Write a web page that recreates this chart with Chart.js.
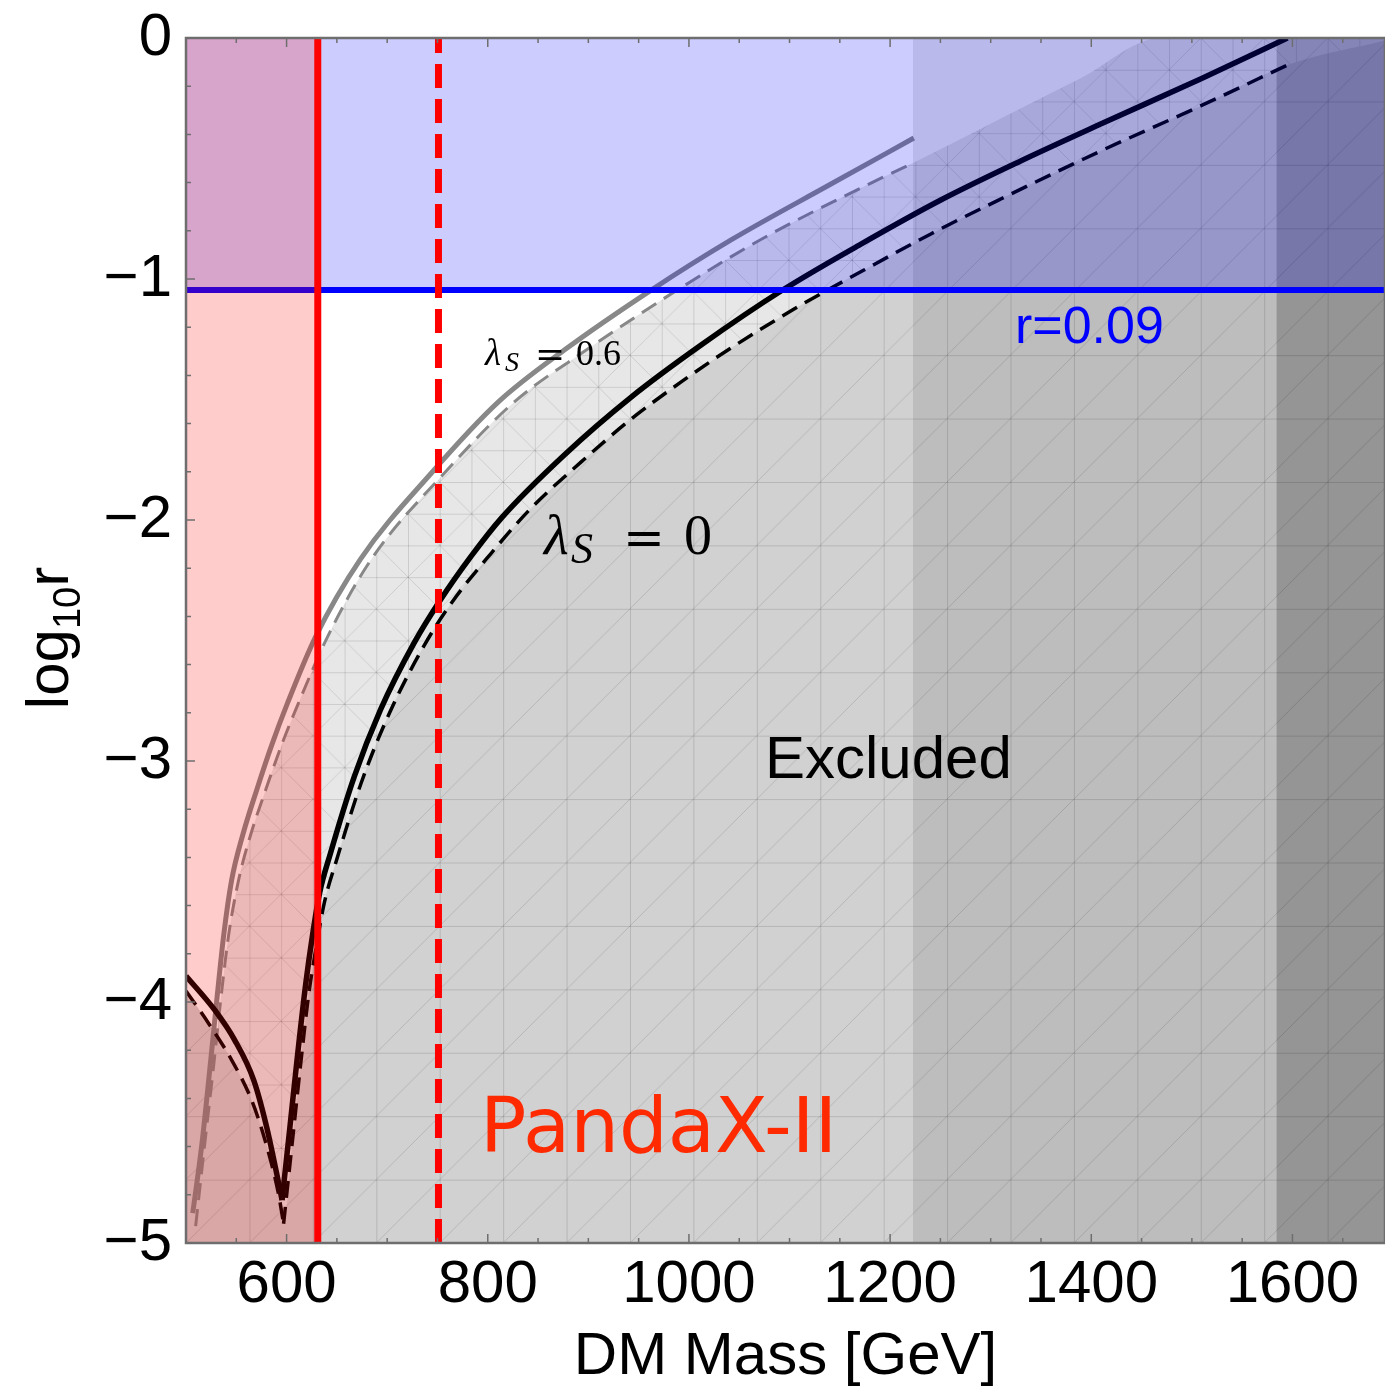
<!DOCTYPE html>
<html>
<head>
<meta charset="utf-8">
<script src="https://cdn.jsdelivr.net/npm/chart.js@4.4.1/dist/chart.umd.min.js"></script>
<style>
  html, body { margin: 0; padding: 0; background: #fff; }
  #wrap { width: 1385px; height: 1387px; position: relative; }
</style>
</head>
<body>
<div id="wrap"><canvas id="chart"></canvas></div>
<script>
// axis ticks
const xTickValues = [600, 800, 1000, 1200, 1400, 1600];
const yTickValues = [-5, -4, -3, -2, -1, 0];
const yTickLabels = ['\u22125', '\u22124', '\u22123', '\u22122', '\u22121', '0'];

const massMin = 500, massMax = 1692;
const pandaxMass = 631;        // PandaX-II bound (solid red)
const pandaxFutureMass = 751;  // projected bound (dashed red)
const rValue = 0.09;
const band1Mass = 1222.6;      // lambda_S = 0.6 excludes everything above this
const band2Mass = 1584;        // lambda_S = 0 excludes everything above this

// lambda_S = 0.6, solid
const lam06Mass = [506.7, 515.7, 523.6, 530.6, 537.5, 545.4, 556.4, 570.3, 585.2, 601, 628.8, 673.5, 744, 810.6, 876.1, 962.5, 1041.9, 1141.2, 1223.6];
const lam06Logr = [-4.876, -4.593, -4.282, -3.992, -3.722, -3.494, -3.307, -3.12, -2.934, -2.759, -2.485, -2.162, -1.805, -1.51, -1.295, -1.046, -0.838, -0.606, -0.415];
// lambda_S = 0.6, dashed
const lam06DashMass = [509.6, 518.5, 527, 534.5, 542.4, 552.3, 564.2, 579.2, 595, 611.9, 640.7, 684.4, 756.9, 826.4, 897.9, 988.3, 1070.7, 1178.9, 1222.6];
const lam06DashLogr = [-4.93, -4.593, -4.282, -3.992, -3.722, -3.494, -3.307, -3.12, -2.934, -2.759, -2.485, -2.162, -1.805, -1.51, -1.295, -1.046, -0.838, -0.606, -0.519];
// excluded-region edge continuing past the dashed curve
const lam06ExtMass = [1310, 1389.4, 1468.8, 1692];
const lam06ExtLogr = [-0.334, -0.167, 0, 0];

// lambda_S = 0, solid (two branches around the dip)
const lam0LeftMass = [500, 528.5, 548.4, 567.3, 580.2, 593.1, 595.5];
const lam0LeftLogr = [-3.892, -4.033, -4.158, -4.324, -4.519, -4.772, -4.822];
const lam0RightMass = [595.5, 603, 610.9, 618.9, 625.8, 632.8, 643.7, 667.2, 693.3, 726.8, 752.9, 783.7, 813.5, 876.1, 942.6, 1012.1, 1091.5, 1171, 1250.4, 1329.8, 1409.3, 1508.6, 1595];
const lam0RightLogr = [-4.822, -4.531, -4.22, -3.929, -3.722, -3.548, -3.382, -3.066, -2.788, -2.51, -2.332, -2.149, -1.992, -1.73, -1.49, -1.274, -1.05, -0.855, -0.672, -0.51, -0.357, -0.17, 0];
// lambda_S = 0, dashed
const lam0DashLeftMass = [500, 522.2, 545.4, 565.2, 578.5, 591.8, 597];
const lam0DashLeftLogr = [-3.954, -4.087, -4.241, -4.407, -4.573, -4.793, -4.92];
const lam0DashRightMass = [597, 605.9, 613.9, 621.9, 629.8, 637.7, 649.7, 674.5, 702.3, 737, 763.9, 803.6, 843.3, 892.9, 942.6, 992.3, 1041.9, 1111.4, 1174, 1240.5, 1310, 1409.3, 1508.6, 1595];
const lam0DashRightLogr = [-4.92, -4.573, -4.261, -3.971, -3.763, -3.585, -3.411, -3.087, -2.801, -2.519, -2.344, -2.137, -1.95, -1.759, -1.581, -1.427, -1.286, -1.108, -0.963, -0.813, -0.668, -0.469, -0.282, -0.112];
const lam0ExtMass = [1692];
const lam0ExtLogr = [-0.01];

const pts = (xs, ys) => xs.map((x, i) => ({ x: x, y: ys[i] }));
const rLog = Math.log10(rValue);

function makeMesh(base, fine) {
  const c = document.createElement('canvas');
  c.width = c.height = 64;
  const g = c.getContext('2d');
  g.fillStyle = base;
  g.fillRect(0, 0, 64, 64);
  g.strokeStyle = 'rgba(0,0,0,0.12)';
  g.lineWidth = 1;
  g.beginPath();
  g.moveTo(0.5, 0); g.lineTo(0.5, 64);
  g.moveTo(0, 0.5); g.lineTo(64, 0.5);
  g.moveTo(0, 64); g.lineTo(64, 0);
  if (fine) {
    g.moveTo(32.5, 0); g.lineTo(32.5, 64);
    g.moveTo(0, 32.5); g.lineTo(64, 32.5);
    g.moveTo(0, 0); g.lineTo(64, 64);
  }
  g.stroke();
  return g.createPattern(c, 'repeat');
}
const meshFine = makeMesh('rgba(0,0,0,0.095)', true);
const meshCoarse = makeMesh('#d1d1d1', false);

function drawRuns(ctx, runs) {
  for (const r of runs) {
    ctx.font = r.font;
    ctx.fillText(r.text, r.x, r.y);
  }
}

const decor = {
  id: 'decor',
  beforeDatasetsDraw(chart) {
    const a = chart.chartArea;
    const s = (a.bottom - a.top) / 19 / 64;
    const m = new DOMMatrix().translate(a.left, a.top).scale(s);
    meshFine.setTransform(m);
    meshCoarse.setTransform(m);
  },
  afterDraw(chart) {
    const { ctx, chartArea: a, scales: { x, y } } = chart;
    ctx.save();
    ctx.strokeStyle = '#6e6e6e';
    ctx.lineWidth = 2.5;
    ctx.strokeRect(a.left, a.top, a.right - a.left, a.bottom - a.top);
    ctx.lineWidth = 1.5;
    ctx.beginPath();
    for (let m = massMin; m <= massMax; m += 50) {
      const px = x.getPixelForValue(m);
      const len = m % 200 === 0 ? 9 : 5;
      ctx.moveTo(px, a.bottom); ctx.lineTo(px, a.bottom - len);
      ctx.moveTo(px, a.top); ctx.lineTo(px, a.top + len);
    }
    for (let k = 0; k <= 25; k++) {
      const py = y.getPixelForValue(-5 + k * 0.2);
      const len = k % 5 === 0 ? 9 : 5;
      ctx.moveTo(a.left, py); ctx.lineTo(a.left + len, py);
    }
    ctx.stroke();

    ctx.fillStyle = '#000';
    ctx.textBaseline = 'alphabetic';
    // y axis title: log10 r
    ctx.save();
    ctx.translate(68, 638);
    ctx.rotate(-Math.PI / 2);
    ctx.font = '60px "Liberation Sans"';
    const wLog = ctx.measureText('log').width;
    const wR = ctx.measureText('r').width;
    ctx.font = '38px "Liberation Sans"';
    const wSub = ctx.measureText('10').width;
    let cx = -(wLog + wSub + wR) / 2;
    ctx.font = '60px "Liberation Sans"';
    ctx.fillText('log', cx, 0); cx += wLog;
    ctx.font = '38px "Liberation Sans"';
    ctx.fillText('10', cx, 12); cx += wSub;
    ctx.font = '60px "Liberation Sans"';
    ctx.fillText('r', cx, 0);
    ctx.restore();

    drawRuns(ctx, [
      { text: '\u03bb', font: 'italic 37px "Liberation Serif"', x: 485, y: 365 },
      { text: 'S', font: 'italic 28px "Liberation Serif"', x: 505, y: 371 },
      { text: '=', font: '36px "DejaVu Serif"', x: 535, y: 366 },
      { text: '0.6', font: '36px "Liberation Serif"', x: 576, y: 365 }
    ]);
    drawRuns(ctx, [
      { text: '\u03bb', font: 'italic 57px "Liberation Serif"', x: 544, y: 554 },
      { text: 'S', font: 'italic 44px "Liberation Serif"', x: 571, y: 563 },
      { text: '=', font: '50px "DejaVu Serif"', x: 623, y: 555 },
      { text: '0', font: '56px "Liberation Serif"', x: 684, y: 554 }
    ]);
    ctx.font = '60px "Liberation Sans"';
    ctx.fillText('Excluded', 765, 778);
    ctx.fillStyle = '#ff2a00';
    ctx.font = '77px "DejaVu Sans"';
    ctx.fillText('PandaX-II', 480, 1152);
    ctx.fillStyle = '#0000ff';
    ctx.font = '52px "Liberation Sans"';
    ctx.fillText('r=0.09', 1015, 343);
    ctx.restore();
  }
};

const curve = { pointRadius: 0, fill: false, cubicInterpolationMode: 'monotone' };
const noLine = { pointRadius: 0, borderWidth: 0, borderColor: 'transparent' };

const lam0FillData = pts(
  lam0DashLeftMass.concat(lam0DashRightMass.slice(1), lam0ExtMass),
  lam0DashLeftLogr.concat(lam0DashRightLogr.slice(1), lam0ExtLogr));

new Chart(document.getElementById('chart'), {
  type: 'line',
  data: {
    datasets: [
      // excluded regions
      Object.assign({ data: pts(lam06DashMass.concat(lam06ExtMass), lam06DashLogr.concat(lam06ExtLogr)),
        fill: 'start', backgroundColor: meshFine, cubicInterpolationMode: 'monotone', order: 100 }, noLine),
      Object.assign({ data: lam0FillData, fill: 'start', backgroundColor: meshCoarse,
        cubicInterpolationMode: 'monotone', order: 95 }, noLine),
      Object.assign({ data: pts([band1Mass, massMax], [0, 0]), fill: 'start',
        backgroundColor: 'rgba(0,0,0,0.096)', order: 90 }, noLine),
      Object.assign({ data: pts([band2Mass, massMax], [0, 0]), fill: 'start',
        backgroundColor: 'rgba(0,0,0,0.21)', order: 85 }, noLine),
      // curves
      Object.assign({ data: pts(lam06Mass, lam06Logr), borderColor: '#888888', borderWidth: 5, order: 60 }, curve),
      Object.assign({ data: pts(lam06DashMass, lam06DashLogr), borderColor: '#888888', borderWidth: 3,
        borderDash: [17, 9], order: 59 }, curve),
      Object.assign({ data: pts(lam0LeftMass, lam0LeftLogr), borderColor: '#000000', borderWidth: 5.5, order: 58 }, curve),
      Object.assign({ data: pts(lam0RightMass, lam0RightLogr), borderColor: '#000000', borderWidth: 5.5, order: 58 }, curve),
      Object.assign({ data: pts(lam0DashLeftMass, lam0DashLeftLogr), borderColor: '#000000', borderWidth: 3.5,
        borderDash: [17, 9], order: 57 }, curve),
      Object.assign({ data: pts(lam0DashRightMass, lam0DashRightLogr), borderColor: '#000000', borderWidth: 3.5,
        borderDash: [17, 9], order: 57 }, curve),
      // r = 0.09 band and line
      { data: pts([massMin, massMax], [rLog, rLog]), fill: 'end', backgroundColor: 'rgba(0,0,255,0.2)',
        borderColor: '#0000ff', borderWidth: 6, pointRadius: 0, order: 40 },
      // PandaX-II
      Object.assign({ data: pts([massMin, pandaxMass], [-5, -5]), fill: 'end',
        backgroundColor: 'rgba(255,0,0,0.2)', order: 30 }, noLine),
      { data: pts([pandaxMass, pandaxMass], [-5, 0]), borderColor: '#ff0000', borderWidth: 7,
        pointRadius: 0, fill: false, order: 20 },
      { data: pts([pandaxFutureMass, pandaxFutureMass], [-5, 0]), borderColor: '#ff0000', borderWidth: 7,
        borderDash: [24, 11], pointRadius: 0, fill: false, order: 19 }
    ]
  },
  options: {
    responsive: true,
    maintainAspectRatio: false,
    animation: false,
    layout: { padding: { top: 38, right: 0, left: 0, bottom: 0 } },
    plugins: { legend: { display: false }, tooltip: { enabled: false } },
    scales: {
      x: {
        type: 'linear', min: massMin, max: massMax,
        grid: { display: false, drawTicks: false },
        border: { display: false },
        afterBuildTicks: s => { s.ticks = xTickValues.map(v => ({ value: v })); },
        afterFit: s => { s.height = 144; s.paddingLeft = 0; s.paddingRight = 0; },
        ticks: { color: '#000', font: { family: 'Liberation Sans', size: 60 }, padding: 6,
          maxRotation: 0, autoSkip: false, callback: v => String(v) },
        title: { display: true, text: 'DM Mass [GeV]', color: '#000',
          font: { family: 'Liberation Sans', size: 60, lineHeight: 1 }, padding: { top: 0, bottom: 0 } }
      },
      y: {
        type: 'linear', min: -5, max: 0,
        grid: { display: false, drawTicks: false },
        border: { display: false },
        afterBuildTicks: s => { s.ticks = yTickValues.map(v => ({ value: v })); },
        afterFit: s => { s.width = 186; s.paddingTop = 0; s.paddingBottom = 0; },
        ticks: { color: '#000', font: { family: 'Liberation Sans', size: 60 }, padding: 14,
          callback: v => yTickLabels[yTickValues.indexOf(v)] }
      }
    }
  },
  plugins: [decor]
});
</script>
</body>
</html>
